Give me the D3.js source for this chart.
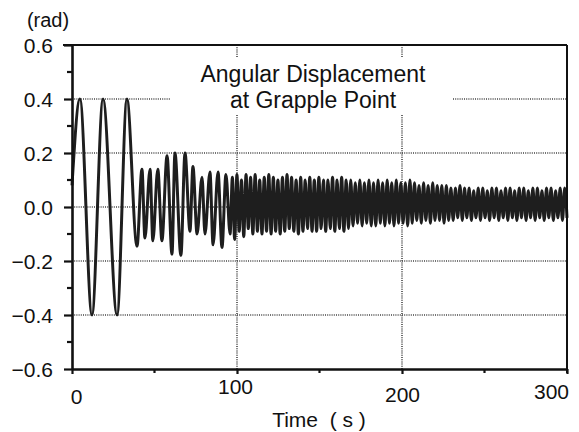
<!DOCTYPE html>
<html lang="en">
<head>
<meta charset="utf-8">
<title>Angular Displacement at Grapple Point</title>
<script src="https://cdn.jsdelivr.net/npm/d3@7"></script>
<style>
  body { margin: 0; background: #fff; }
  text { font-family: "Liberation Sans", Arial, sans-serif; fill: #111; }
</style>
</head>
<body>
<svg id="chart" width="579" height="432"></svg>
<script>
// data: extrema of the angular displacement (rad)
var earlyTimes = [0, 4.8, 12.1, 18.8, 27.3, 33.3, 39.4, 42.4, 44.2, 47.3, 49, 52, 54.5, 57.6, 60.6,
  62.4, 66, 68.5, 71.5, 73.3, 75.8, 78.8, 80.6, 83.6, 85.5, 88.5, 90.9, 93.3, 95.8];
var earlyValues = [0.08, 0.4, -0.4, 0.4, -0.4, 0.4, -0.145, 0.14, -0.115, 0.14, -0.125, 0.14, -0.125, 0.19, -0.175,
  0.2, -0.18, 0.2, -0.09, 0.15, -0.1, 0.11, -0.1, 0.13, -0.14, 0.13, -0.15, 0.12, -0.1];

// after ~97 s the extrema are roughly evenly spaced
var denseStart = 97.2, denseEnd = 300;
var denseValues = [
  0.11,-0.12, 0.12,-0.09, 0.10,-0.11, 0.12,-0.08, 0.11,-0.10, 0.12,-0.09, 0.10,-0.10, 0.11,-0.09,
  0.12,-0.10, 0.11,-0.09, 0.10,-0.10, 0.11,-0.09, 0.12,-0.08, 0.11,-0.09, 0.10,-0.10, 0.11,-0.09,
  0.10,-0.08, 0.11,-0.09, 0.10,-0.09, 0.11,-0.08, 0.10,-0.09, 0.10,-0.08, 0.11,-0.09, 0.10,-0.08,
  0.11,-0.09, 0.10,-0.08,
  0.10,-0.07, 0.09,-0.06, 0.10,-0.07, 0.09,-0.06, 0.10,-0.07, 0.09,-0.07, 0.10,-0.06, 0.09,-0.07,
  0.10,-0.06, 0.09,-0.07, 0.10,-0.06, 0.09,-0.06, 0.09,-0.07, 0.10,-0.06, 0.09,-0.05, 0.08,-0.06,
  0.09,-0.05, 0.08,-0.06, 0.09,-0.05, 0.08,-0.05, 0.08,-0.06, 0.08,-0.05,
  0.07,-0.05, 0.07,-0.04, 0.08,-0.05, 0.07,-0.04, 0.07,-0.05, 0.06,-0.04, 0.07,-0.05, 0.07,-0.04,
  0.06,-0.05, 0.07,-0.04, 0.07,-0.05, 0.06,-0.04, 0.07,-0.05, 0.07,-0.04, 0.06,-0.05, 0.07,-0.04,
  0.07,-0.05, 0.06,-0.04, 0.07,-0.05, 0.07,-0.04, 0.06,-0.05, 0.07,-0.04, 0.07,-0.05, 0.06,-0.04,
  0.07,-0.05, 0.07,-0.04
];

var xTicks = [0, 100, 200, 300];
var xMinor = [50, 150, 250];
var yTicks = [0.6, 0.4, 0.2, 0.0, -0.2, -0.4, -0.6];
var yMinor = [0.5, 0.3, 0.1, -0.1, -0.3, -0.5];
var titleLines = ["Angular Displacement", "at Grapple Point"];

var svg = d3.select("#chart");
var mLeft = 72, mRight = 567, mTop = 45, mBottom = 369;

var x = d3.scaleLinear().domain([0, 300]).range([mLeft, mRight]);
var y = d3.scaleLinear().domain([-0.6, 0.6]).range([mBottom, mTop]);

// build the series
var step = (denseEnd - denseStart) / (denseValues.length - 1);
var series = earlyTimes.map((t, i) => ({t: t, v: earlyValues[i]}));
denseValues.forEach((v, i) => series.push({t: denseStart + i * step, v: v}));

// dotted grid
var grid = svg.append("g")
  .style("stroke", "#444")
  .style("stroke-width", 1.6)
  .style("stroke-dasharray", "1,1.2");

[0.4, 0.2, 0, -0.2, -0.4].forEach(function(v) {
  if (v == 0.4) {
    grid.append("line").attr("x1", mLeft).attr("x2", 170).attr("y1", y(v)).attr("y2", y(v));
    grid.append("line").attr("x1", 453).attr("x2", mRight).attr("y1", y(v)).attr("y2", y(v));
  } else {
    grid.append("line").attr("x1", mLeft).attr("x2", mRight).attr("y1", y(v)).attr("y2", y(v));
  }
});
[100, 200].forEach(function(t) {
  grid.append("line").attr("x1", x(t)).attr("x2", x(t)).attr("y1", mTop).attr("y2", 58);
  grid.append("line").attr("x1", x(t)).attr("x2", x(t)).attr("y1", 115).attr("y2", mBottom);
});

// the trace
svg.append("path")
  .datum(series)
  .attr("fill", "none")
  .attr("stroke", "#1e1e1e")
  .attr("stroke-width", 3)
  .attr("stroke-linejoin", "round")
  .attr("d", d3.line().x(d => x(d.t)).y(d => y(d.v)).curve(d3.curveMonotoneX));

// frame
svg.append("line").attr("x1", 63).attr("x2", mRight).attr("y1", mTop).attr("y2", mTop)
  .attr("stroke", "#111").attr("stroke-width", 2);
svg.append("line").attr("x1", mRight).attr("x2", mRight).attr("y1", mTop).attr("y2", mBottom + 4)
  .attr("stroke", "#111").attr("stroke-width", 2);

// axes
var xAxis = svg.append("g")
  .attr("transform", "translate(0," + mBottom + ")")
  .call(d3.axisBottom(x).tickValues(xTicks).tickSize(5).tickSizeOuter(0).tickFormat(d3.format("d")));
xAxis.append("g").selectAll("line").data(xMinor).enter().append("line")
  .attr("x1", d => x(d)).attr("x2", d => x(d)).attr("y1", 0).attr("y2", 4);

var yAxis = svg.append("g")
  .attr("transform", "translate(" + mLeft + ",0)")
  .call(d3.axisLeft(y).tickValues(yTicks).tickSize(8).tickSizeOuter(0).tickFormat(d3.format(".1f")));
yAxis.append("g").selectAll("line").data(yMinor).enter().append("line")
  .attr("x1", -5).attr("x2", 0).attr("y1", d => y(d)).attr("y2", d => y(d));

[xAxis, yAxis].forEach(function(a) {
  a.select(".domain").attr("stroke", "#111").attr("stroke-width", 2.6);
  a.selectAll("line").attr("stroke", "#111").attr("stroke-width", 2.2);
  a.selectAll("text").style("font-size", "21px").attr("fill", "#111")
    .style("font-family", "'Liberation Sans', Arial, sans-serif");
});
yAxis.selectAll(".tick text").attr("x", -19).attr("dy", "0.36em");
// scanned labels sit at slightly different places
var xDy = {0: 20, 100: 10, 200: 18, 300: 15};
var xDx = {0: 4, 100: -2, 200: 0, 300: -16};
xAxis.selectAll(".tick text").attr("y", d => xDy[d]).attr("dy", "0.71em").attr("dx", d => xDx[d]);

// labels
svg.append("text").attr("x", 48).attr("y", 27).attr("text-anchor", "middle")
  .style("font-size", "20px").text("(rad)");
svg.append("text").attr("x", 319).attr("y", 427).attr("text-anchor", "middle")
  .style("font-size", "21px").attr("xml:space", "preserve").text("Time  ( s )");

svg.selectAll(".title").data(titleLines).enter().append("text")
  .attr("class", "title")
  .attr("x", 313).attr("y", (d, i) => 82 + i * 26)
  .attr("text-anchor", "middle")
  .style("font-size", "23px")
  .text(d => d);
</script>
</body>
</html>
